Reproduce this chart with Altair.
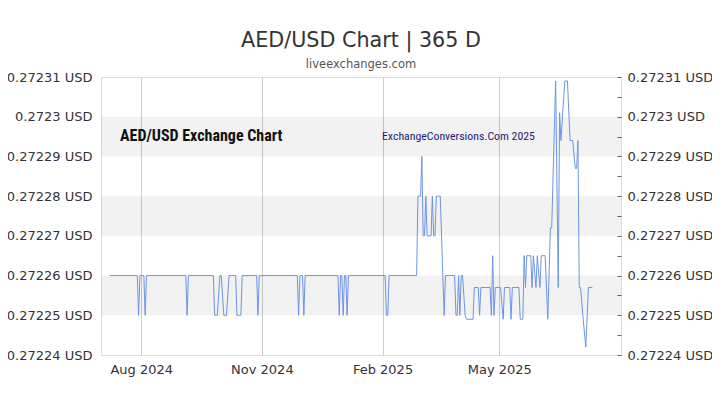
import altair as alt
import pandas as pd

# ---------------- data ----------------
B = 0.27226
D = 0.27225

dates_2024 = [
    "2024-07-08", "2024-07-29", "2024-07-30", "2024-07-31",
    "2024-08-03", "2024-08-04", "2024-08-05",
    "2024-09-04", "2024-09-05", "2024-09-06",
    "2024-09-25", "2024-09-26", "2024-09-28", "2024-09-30",
    "2024-10-01", "2024-10-03", "2024-10-05", "2024-10-07",
    "2024-10-12", "2024-10-13", "2024-10-16", "2024-10-17",
    "2024-10-28", "2024-10-29", "2024-10-30",
    "2024-11-28", "2024-11-29", "2024-11-30",
    "2024-12-02", "2024-12-03", "2024-12-04",
    "2024-12-29", "2024-12-30", "2024-12-31",
    "2025-01-01", "2025-01-02", "2025-01-03",
    "2025-01-04", "2025-01-05", "2025-01-06",
    "2025-02-03", "2025-02-04", "2025-02-05", "2025-02-06",
]
rates_2024 = [
    B, B, D, B,
    B, D, B,
    B, D, B,
    B, D, D, B,
    B, D, D, B,
    B, D, D, B,
    B, D, B,
    B, D, B,
    B, D, B,
    B, D, B,
    B, D, B,
    B, D, B,
    B, D, D, B,
]

dates_2025 = [
    "2025-02-27", "2025-02-28", "2025-03-02", "2025-03-03", "2025-03-04",
    "2025-03-05", "2025-03-06", "2025-03-07", "2025-03-10", "2025-03-11",
    "2025-03-12", "2025-03-13", "2025-03-14", "2025-03-17", "2025-03-18",
    "2025-03-19", "2025-03-20", "2025-03-21",
    "2025-03-28", "2025-03-29", "2025-03-30", "2025-03-31", "2025-04-01",
    "2025-04-02", "2025-04-03", "2025-04-04", "2025-04-05", "2025-04-06",
    "2025-04-11", "2025-04-12", "2025-04-15", "2025-04-16", "2025-04-17",
    "2025-04-24", "2025-04-25", "2025-04-26", "2025-04-27", "2025-04-28",
    "2025-05-02", "2025-05-04", "2025-05-05", "2025-05-09", "2025-05-10",
    "2025-05-11", "2025-05-16", "2025-05-17", "2025-05-19", "2025-05-20",
    "2025-05-21", "2025-05-22", "2025-05-25", "2025-05-26", "2025-05-27",
    "2025-05-29", "2025-05-30", "2025-06-01", "2025-06-02", "2025-06-05",
    "2025-06-07", "2025-06-09", "2025-06-10", "2025-06-13", "2025-06-15",
    "2025-06-16", "2025-06-17", "2025-06-20", "2025-06-22", "2025-06-24",
    "2025-06-26", "2025-06-28", "2025-06-29", "2025-06-30", "2025-07-01",
    "2025-07-02", "2025-07-04", "2025-07-06", "2025-07-08", "2025-07-11",
]
rates_2025 = [
    0.27226, 0.27228, 0.27228, 0.27229, 0.27227,
    0.27227, 0.27228, 0.27227, 0.27227, 0.27228,
    0.27227, 0.27227, 0.27228, 0.27228, 0.27227,
    0.27226, 0.27225, 0.27226,
    0.27226, 0.27225, 0.27225, 0.27226, 0.27225,
    0.27226, 0.27226, 0.272255, 0.27225, 0.272249,
    0.272249, 0.272257, 0.272257, 0.27225, 0.272257,
    0.272257, 0.27225, 0.272265, 0.27225, 0.272257,
    0.272257, 0.272249, 0.272257, 0.272257, 0.272249,
    0.272257, 0.272257, 0.272249, 0.272249, 0.272265,
    0.272257, 0.272265, 0.272265, 0.272257, 0.272265,
    0.272257, 0.272265, 0.272257, 0.272265, 0.272265,
    0.272249, 0.272272, 0.272272, 0.272309, 0.272257,
    0.272301, 0.272294, 0.272309, 0.272309, 0.272294,
    0.272294, 0.272287, 0.272287, 0.272294, 0.272257,
    0.272257, 0.272249, 0.272242, 0.272257, 0.272257,
]

y_ticks = [0.27224, 0.27225, 0.27226, 0.27227, 0.27228, 0.27229, 0.2723, 0.27231]
y_minor_ticks = [0.27224, 0.272245, 0.27225, 0.272255, 0.27226, 0.272265,
                 0.27227, 0.272275, 0.27228, 0.272285, 0.27229, 0.272295,
                 0.2723, 0.272305, 0.27231]
band_lo = [0.27225, 0.27227, 0.27229]
band_hi = [0.27226, 0.27228, 0.2723]
x_tick_dates = [(2024, 8), (2024, 11), (2025, 2), (2025, 5)]
watermark_texts = ["AED/USD Exchange Chart", "ExchangeConversions.Com 2025"]

# ---------------- chart ----------------
W, H = 520, 278
FONT = "DejaVu Sans"
NARROW = "'Roboto Condensed', 'Liberation Sans Narrow', 'DejaVu Sans Condensed', sans-serif"

df = pd.DataFrame({"date": dates_2024 + dates_2025, "rate": rates_2024 + rates_2025})
bands = pd.DataFrame({"lo": band_lo, "hi": band_hi})

y_scale = alt.Scale(domain=[0.27224, 0.27231], nice=False, zero=False)
x_scale = alt.Scale(
    type="utc",
    domain=[
        alt.DateTime(year=2024, month=7, date=1, hours=8, utc=True),
        alt.DateTime(year=2025, month=8, date=1, hours=20, utc=True),
    ],
)

band_layer = alt.Chart(bands).mark_rect(fill="#000000", fillOpacity=0.05).encode(
    x=alt.value(0),
    x2=alt.value(W),
    y=alt.Y(
        "lo:Q",
        scale=y_scale,
        axis=alt.Axis(
            orient="left", values=y_ticks, title=None, grid=False, ticks=False,
            tickSize=0, domain=False, labelPadding=9, labelFontSize=13,
            labelFont=FONT, labelColor="#333333", labelFlush=False,
            labelOverlap=False,
            labelExpr="format(datum.value, '.5~f') + ' USD'",
        ),
    ),
    y2="hi:Q",
)

line_layer = alt.Chart(df).mark_line(color="#6d95e3", strokeWidth=1).encode(
    x=alt.X(
        "date:T",
        scale=x_scale,
        axis=alt.Axis(
            values=[alt.DateTime(year=y, month=m, date=1, utc=True) for y, m in x_tick_dates],
            labelExpr="utcFormat(datum.value, '%b %Y')",
            title=None, grid=True,
            gridColor="#cccccc", ticks=False, domain=False, labelPadding=8,
            labelFontSize=13, labelFont=FONT, labelColor="#333333",
            labelFlush=False, labelOverlap=False,
        ),
    ),
    y=alt.Y(
        "rate:Q",
        scale=y_scale,
        axis=alt.Axis(
            orient="right", values=y_minor_ticks, title=None, grid=False,
            ticks=True, tickSize=4, tickColor="#666666", offset=-4,
            domain=False, labelPadding=6, labelFontSize=13, labelFont=FONT,
            labelColor="#333333", labelFlush=False, labelOverlap=False,
            labelExpr="round(datum.value * 200000) % 2 == 0 ? format(datum.value, '.5~f') + ' USD' : ''",
        ),
    ),
)

wm = pd.DataFrame({"t": watermark_texts})
title_text = alt.Chart(wm).transform_filter(alt.datum.t == watermark_texts[0]).mark_text(
    align="left", baseline="middle", font=NARROW,
    fontWeight="bold", fontSize=16, color="#111111",
).encode(x=alt.value(19), y=alt.value(59), text="t:N")

brand_text = alt.Chart(wm).transform_filter(alt.datum.t == watermark_texts[1]).mark_text(
    align="left", baseline="middle", font=NARROW,
    fontSize=11.8, color="#1c1c78",
).encode(x=alt.value(281), y=alt.value(59), text="t:N")

chart = alt.layer(band_layer, line_layer, title_text, brand_text).resolve_axis(
    y="independent"
).properties(
    width=W,
    height=H,
    autosize=alt.AutoSizeParams(type="none"),
    padding={"left": 93, "top": 69, "right": 91, "bottom": 42},
    title=alt.TitleParams(
        text="AED/USD Chart | 365 D",
        subtitle="liveexchanges.com",
        anchor="middle",
        font=FONT,
        fontSize=20.7,
        fontWeight="normal",
        color="#333333",
        subtitleFont=FONT,
        subtitleFontSize=11.5,
        subtitleColor="#555555",
        subtitlePadding=7,
        offset=0,
    ),
).configure_view(
    stroke="#cccccc", strokeWidth=1
).configure(background="white")

chart.save("out.html", embed_options={"renderer": "svg", "actions": False})
